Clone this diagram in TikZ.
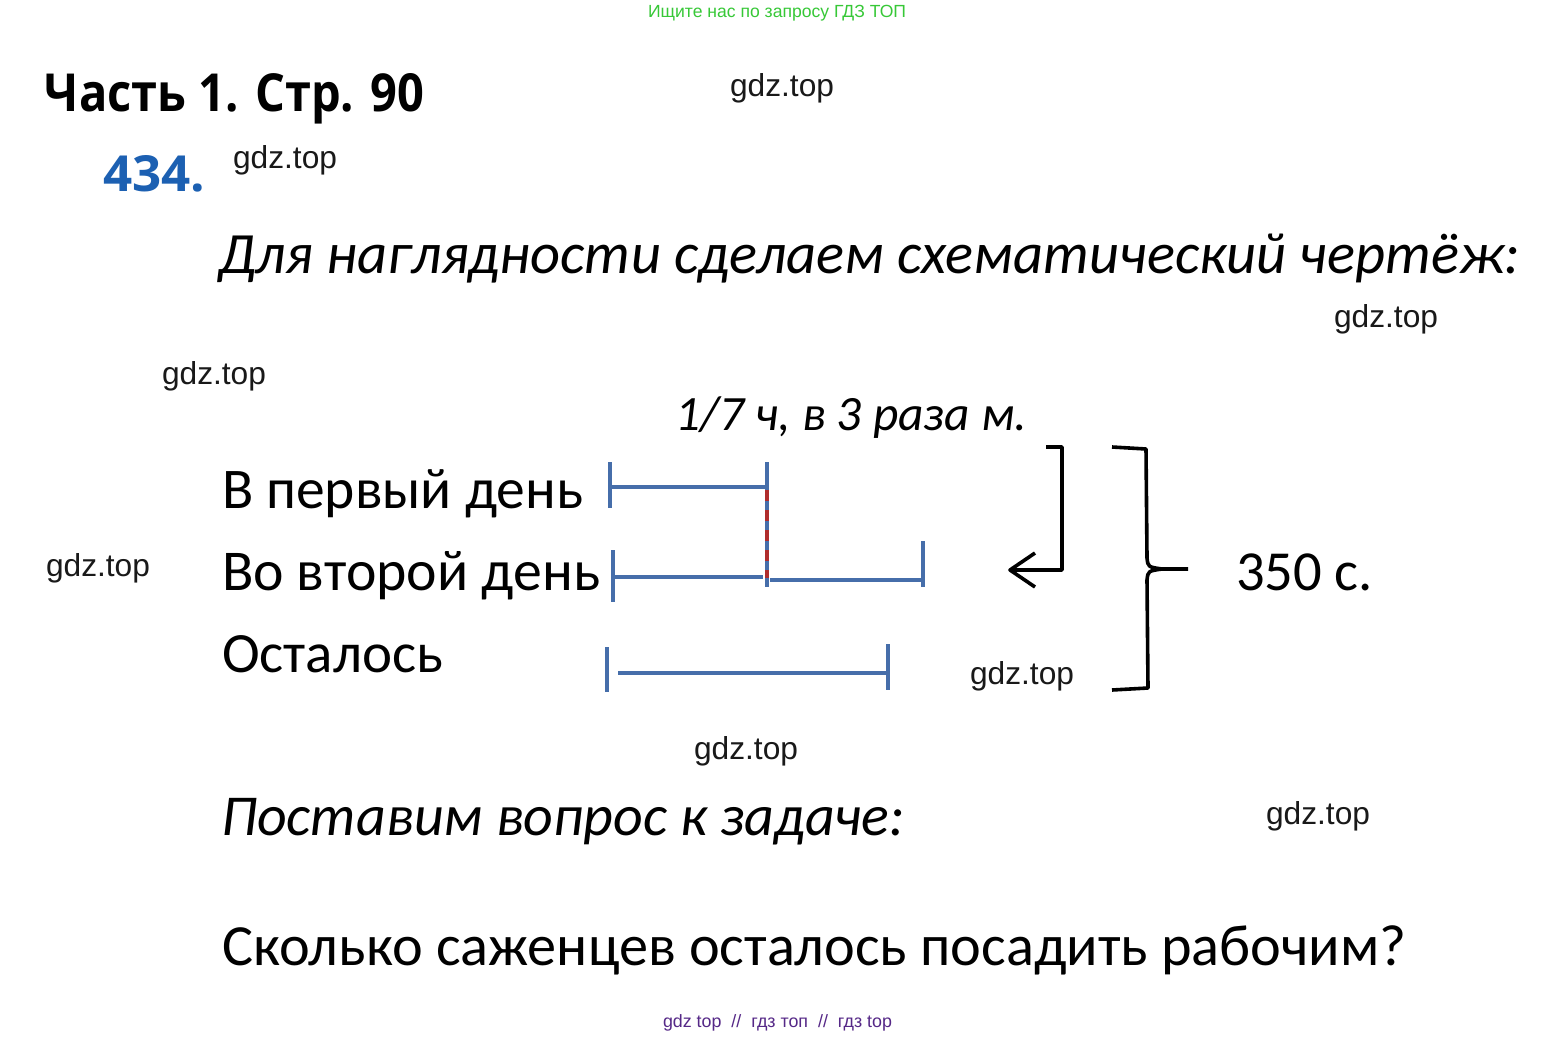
\documentclass[tikz,border=0pt]{standalone}
\usepackage{fontspec}
\usepackage{graphicx}
\setmainfont{Carlito}
\newfontfamily\titlefont{Open Sans}
\newfontfamily\wmfont{Liberation Sans}
\definecolor{segblue}{RGB}{70,110,170}
\definecolor{segred}{RGB}{175,45,45}
\definecolor{numblue}{RGB}{28,96,178}
\definecolor{wmgreen}{RGB}{55,200,55}
\definecolor{wmpurple}{RGB}{85,40,135}
\definecolor{wmgray}{RGB}{25,25,25}
\newcommand\fitw[2]{\resizebox{#1pt}{!}{#2}}
\newcommand\fitwh[3]{\resizebox{#1pt}{#2pt}{#3}}
\begin{document}
\begin{tikzpicture}[x=1pt,y=-1pt,
  txt/.style={anchor=base west,inner sep=0pt,outer sep=0pt},
  seg/.style={draw=segblue,line width=3.6pt},
  blk/.style={draw=black,line width=3.6pt,line join=round},
  wm/.style={txt,text=wmgray}]
\useasboundingbox[fill=white] (0,0) rectangle (1557,1036);
% watermarks
\node[txt,text=wmgreen] (topwm) at (648,17) {\fitw{258}{\wmfont Ищите нас по запросу ГДЗ ТОП}};
\node[txt,text=wmpurple] (botwm) at (663,1027) {\fitw{229}{\wmfont gdz top\ \ //\ \ гдз топ\ \ //\ \ гдз top}};
\node[wm] (w1) at (730,96) {\fitw{104}{\wmfont gdz.top}};
\node[wm] (w2) at (233,168) {\fitw{104}{\wmfont gdz.top}};
\node[wm] (w3) at (1334,327) {\fitw{104}{\wmfont gdz.top}};
\node[wm] (w4) at (162,384) {\fitw{104}{\wmfont gdz.top}};
\node[wm] (w5) at (46,576) {\fitw{104}{\wmfont gdz.top}};
\node[wm] (w6) at (970,684) {\fitw{104}{\wmfont gdz.top}};
\node[wm] (w7) at (694,759) {\fitw{104}{\wmfont gdz.top}};
\node[wm] (w8) at (1266,824) {\fitw{104}{\wmfont gdz.top}};
% headings
\node[txt] (title) at (45,111) {\fitwh{379}{38}{\titlefont\bfseries Часть 1. Стр. 90}};
\node[txt,text=numblue] (num) at (103,191) {\fitwh{102}{36}{\titlefont\bfseries 434.}};
\node[txt] (intro) at (218,273) {\fitw{1302}{\itshape Для наглядности сделаем схематический чертёж:}};
\node[txt] (note) at (675,430) {\fitw{352}{\itshape 1/7 ч, в 3 раза м.}};
\node[txt] (r1) at (222,508) {\fitw{361}{В первый день}};
\node[txt] (r2) at (222,590) {\fitw{378}{Во второй день}};
\node[txt] (r3) at (222,672) {\fitw{221}{Осталось}};
\node[txt] (total) at (1236,590) {\fitw{137}{350 с.}};
\node[txt] (q1) at (221,835) {\fitw{684}{\itshape Поставим вопрос к задаче:}};
\node[txt] (q2) at (222,965) {\fitw{1184}{Сколько саженцев осталось посадить рабочим?}};
% segments
\path[seg] (610,462) -- (610,508);
\path[seg] (612,487) -- (766,487);
\path[seg] (767,462) -- (767,587);
\path[draw=segred,line width=3.6pt,dash pattern=on 11pt off 9pt] (767,490) -- (767,578);
\path[seg] (613,550) -- (613,602);
\path[seg] (615,577) -- (763,577);
\path[seg] (770,580) -- (922,580);
\path[seg] (923,541) -- (923,587);
\path[seg] (607,647) -- (607,692);
\path[seg] (618,673) -- (888,673);
\path[seg] (888,644) -- (888,690);
% arrow bracket
\coordinate (a1) at (1046,447);
\coordinate (a2) at (1062,447);
\coordinate (a3) at (1062,570);
\coordinate (a4) at (1010,570);
\path[blk] (a1) -- (a2) -- (a3) -- (a4);
\path[blk] (1035,553) -- (a4) -- (1035,587);
% brace
\coordinate (b1) at (1112,447);
\coordinate (b2) at (1188,569);
\coordinate (b3) at (1112,690);
\path[blk] (b1) -- (1146,449) -- (1147,558) .. controls (1148,567) .. (1162,569) -- (b2);
\path[blk] (1162,569) .. controls (1148,571) .. (1147,580) -- (1148,688) -- (b3);
\end{tikzpicture}
\end{document}
